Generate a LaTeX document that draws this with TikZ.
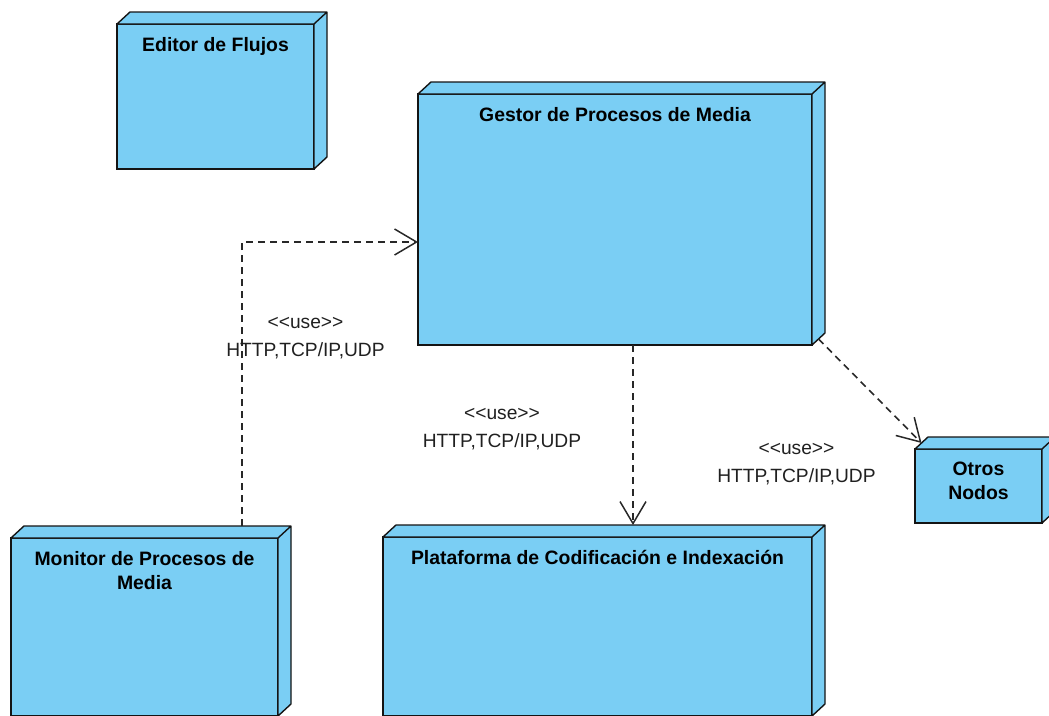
\documentclass[tikz,border=0pt]{standalone}
\usepackage{fontspec}
\setmainfont{Liberation Sans}[Ligatures=TeXOff]
\usetikzlibrary{arrows.meta,calc}
\definecolor{nodefill}{RGB}{122,206,244}
\definecolor{edgeline}{RGB}{20,20,20}
\definecolor{depline}{RGB}{40,40,40}

% top and right faces of a deployment node (3D box)
\newcommand\deployfaces[1]{%
  \filldraw[draw=edgeline, fill=nodefill, line width=1.4pt, line join=round]
    (#1.north west) -- ++(13,-12) -- ($(#1.north east)+(13,-12)$)
    -- ($(#1.south east)+(13,-12)$) -- (#1.south east) -- (#1.north east) -- cycle
    (#1.north east) -- ++(13,-12);}

\begin{document}
\begin{tikzpicture}[x=1pt,y=-1pt,
  nodebox/.style={draw=edgeline, fill=nodefill, line width=1.4pt, inner sep=0pt,
    outer sep=0pt, anchor=north west},
  title/.style={font=\fontsize{19.4}{24}\selectfont\bfseries, align=center,
    inner sep=0pt, text=black, anchor=north},
  dep/.style={draw=depline, line width=1.6pt, dash pattern=on 7pt off 5pt,
    -{Straight Barb[length=22pt,width=26pt,line width=1.5pt]}},
  uselabel/.style={font=\fontsize{19.2}{28}\selectfont, align=center,
    inner sep=0pt, text=depline!80!black}]

\useasboundingbox (0,0) rectangle (1049,715);
\clip (0,0) rectangle (1049,715);

% deployment nodes
\node[nodebox, minimum width=197, minimum height=145] (ed) at (117,24) {};
\deployfaces{ed}
\node[title] at ([yshift=-13pt]ed.north) {Editor de Flujos};

\node[nodebox, minimum width=394, minimum height=251] (gp) at (418,94) {};
\deployfaces{gp}
\node[title] at ([yshift=-13pt]gp.north) {Gestor de Procesos de Media};

\node[nodebox, minimum width=267, minimum height=178] (mon) at (11,538) {};
\deployfaces{mon}
\node[title] at ([yshift=-13pt]mon.north) {Monitor de Procesos de\\Media};

\node[nodebox, minimum width=429, minimum height=179] (pl) at (383,537) {};
\deployfaces{pl}
\node[title] at ([yshift=-13pt]pl.north) {Plataforma de Codificación e Indexación};

\node[nodebox, minimum width=127, minimum height=74] (ot) at (915,449) {};
\deployfaces{ot}
\node[title] at ([yshift=-13pt]ot.north) {Otros\\Nodos};

% dependencies
\coordinate (monback) at ([xshift=231pt, yshift=12pt]mon.north west);
\coordinate (plback) at ([yshift=12pt]pl.north);
\draw[dep] (monback) |- ([yshift=-22.5pt]gp.west);
\draw[dep] ([xshift=18pt]gp.south) -- ([xshift=18pt]gp.south |- plback);
\draw[dep] ([xshift=6.5pt, yshift=6pt]gp.south east)
  -- ([xshift=6.5pt, yshift=6pt]ot.north west);

% dependency labels
\node[uselabel] (u1) at (305.5,338) {<<use>>\\HTTP,TCP/IP,UDP};
\node[uselabel] (u2) at (502,429) {<<use>>\\HTTP,TCP/IP,UDP};
\node[uselabel] (u3) at (796.5,464) {<<use>>\\HTTP,TCP/IP,UDP};
\end{tikzpicture}
\end{document}
